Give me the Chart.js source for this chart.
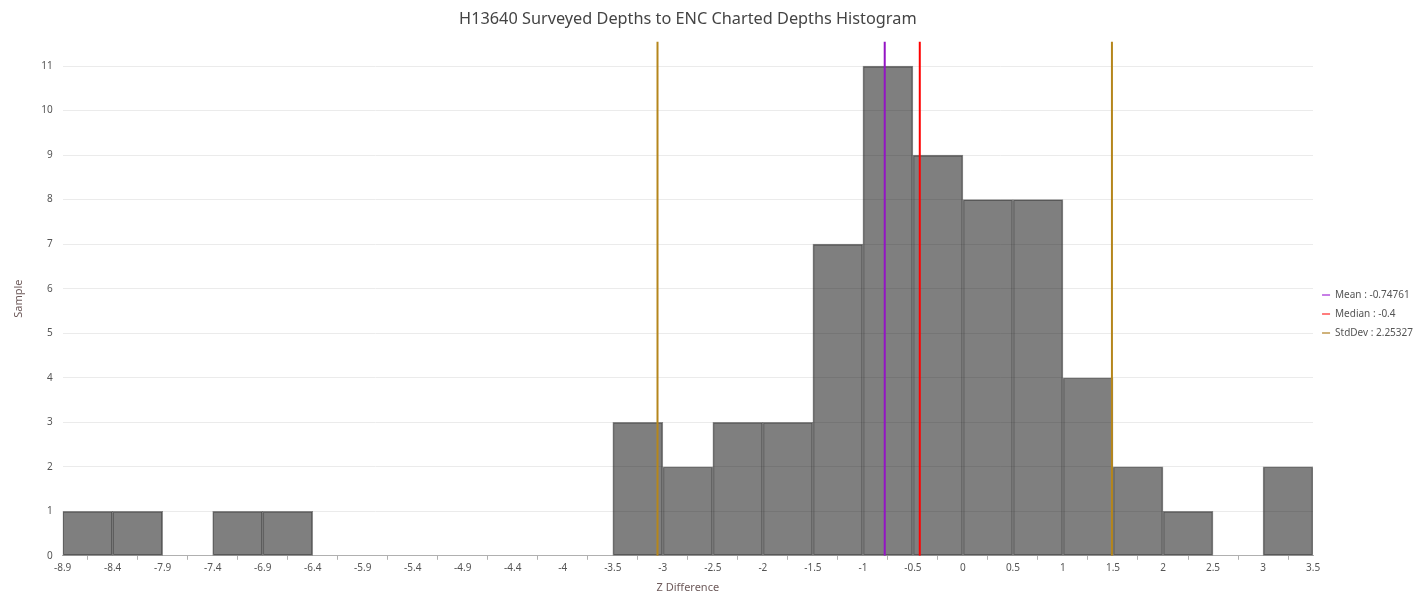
<!DOCTYPE html>
<html>
<head>
<meta charset="utf-8">
<title>Histogram</title>
<script src="https://cdn.jsdelivr.net/npm/chart.js@4.4.1/dist/chart.umd.min.js"></script>
<style>
  html, body { margin: 0; padding: 0; background: #fff; }
  #wrap { width: 1424px; height: 594px; position: relative; }
</style>
</head>
<body>
<div id="wrap"><canvas id="histChart"></canvas></div>
<script>
// =======================================================
// DADOS
// =======================================================
const binEdges = ['-8.9', '-8.4', '-7.9', '-7.4', '-6.9', '-6.4', '-5.9', '-5.4', '-4.9', '-4.4', '-4',
    '-3.5', '-3', '-2.5', '-2', '-1.5', '-1', '-0.5', '0', '0.5', '1', '1.5', '2', '2.5', '3', '3.5'];
const binCounts = [1, 1, 0, 1, 1, 0, 0, 0, 0, 0, 0, 3, 2, 3, 3, 7, 11, 9, 8, 8, 4, 2, 1, 0, 2];
const yTicks = [0, 1, 2, 3, 4, 5, 6, 7, 8, 9, 10, 11];

const meanValue = -0.74761;
const medianValue = -0.4;
const stdDevValue = 2.25327;

const titleText = 'H13640 Surveyed Depths to ENC Charted Depths Histogram';

// =======================================================
// GRÁFICO
// =======================================================
const xMin = parseFloat(binEdges[0]);
const xMax = parseFloat(binEdges[binEdges.length - 1]);
const nBins = binCounts.length;
const yTop = Math.max(...binCounts) * 1.05;

// converte valor real para a posição no eixo (linear sobre o intervalo)
const toPos = v => (v - xMin) / (xMax - xMin) * nBins;
const vline = v => [{ x: toPos(v), y: 0 }, { x: toPos(v), y: yTop }];

const barData = binCounts.map((c, i) => ({ x: i + 0.5, y: c }));

function renderHistogram() {
    const ctx = document.getElementById('histChart');

    new Chart(ctx, {
        type: 'bar',
        data: {
            datasets: [
                {
                    label: 'Histogram',
                    data: barData,
                    backgroundColor: 'rgba(0, 0, 0, 0.5)',
                    borderColor: 'rgba(50, 50, 50, 0.55)',
                    borderWidth: 1,
                    borderSkipped: false,
                    barPercentage: 1,
                    categoryPercentage: 1,
                    order: 2
                },
                {
                    type: 'line',
                    label: 'Mean : ' + meanValue,
                    data: vline(meanValue),
                    borderColor: '#9414c4',
                    backgroundColor: '#c77ee6',
                    borderWidth: 2,
                    pointRadius: 0,
                    order: 1
                },
                {
                    type: 'line',
                    label: 'Median : ' + medianValue,
                    data: vline(medianValue),
                    borderColor: '#ff0000',
                    backgroundColor: '#ff7d7d',
                    borderWidth: 2,
                    pointRadius: 0,
                    order: 1
                },
                {
                    type: 'line',
                    label: 'StdDev : ' + stdDevValue,
                    data: vline(meanValue - stdDevValue),
                    borderColor: '#b5861c',
                    backgroundColor: '#cfb27a',
                    borderWidth: 2,
                    pointRadius: 0,
                    order: 1
                },
                {
                    type: 'line',
                    label: 'StdDev+',
                    data: vline(meanValue + stdDevValue),
                    borderColor: '#b5861c',
                    borderWidth: 2,
                    pointRadius: 0,
                    order: 1
                }
            ]
        },
        options: {
            responsive: true,
            maintainAspectRatio: false,
            animation: false,
            layout: { padding: { left: 12, right: 1, top: 0, bottom: 0 } },
            scales: {
                x: {
                    type: 'linear',
                    min: 0,
                    max: nBins,
                    offset: false,
                    border: { color: '#b0b0b0' },
                    grid: { drawOnChartArea: false, drawTicks: true, tickLength: 4, color: '#b0b0b0' },
                    ticks: {
                        stepSize: 1,
                        autoSkip: false,
                        maxRotation: 0,
                        padding: 2,
                        color: '#555',
                        font: { family: 'Noto Sans', size: 10 },
                        callback: function(value) {
                            return binEdges[value];
                        }
                    },
                    title: {
                        display: true,
                        text: 'Z Difference',
                        color: '#6d5a5a',
                        font: { family: 'Noto Sans', size: 11 },
                        padding: { top: 5, bottom: 0 }
                    }
                },
                y: {
                    min: 0,
                    max: yTop,
                    border: { display: false },
                    grid: { color: '#ebebeb', drawTicks: false },
                    afterBuildTicks: function(scale) {
                        scale.ticks = yTicks.map(v => ({ value: v }));
                    },
                    ticks: {
                        padding: 10,
                        color: '#555',
                        font: { family: 'Noto Sans', size: 10 }
                    },
                    title: {
                        display: true,
                        text: 'Sample',
                        color: '#6d5a5a',
                        font: { family: 'Noto Sans', size: 11 },
                        padding: { top: 0, bottom: 6 }
                    }
                }
            },
            plugins: {
                title: {
                    display: true,
                    fullSize: false,
                    text: titleText,
                    color: '#444',
                    font: { family: 'Noto Sans', size: 16.3, weight: 'normal' },
                    padding: { top: 10, bottom: 12 }
                },
                legend: {
                    position: 'right',
                    align: 'center',
                    title: {
                        display: true,
                        text: ' ',
                        font: { size: 10 },
                        padding: { top: 0, bottom: 22 }
                    },
                    labels: {
                        filter: item => item.text !== 'Histogram' && item.text !== 'StdDev+',
                        boxWidth: 8,
                        boxHeight: 2,
                        padding: 9,
                        color: '#555',
                        font: { family: 'Noto Sans', size: 10 },
                        generateLabels: function(chart) {
                            const items = Chart.defaults.plugins.legend.labels.generateLabels(chart);
                            items.forEach(it => {
                                const ds = chart.data.datasets[it.datasetIndex];
                                it.fillStyle = ds.backgroundColor || ds.borderColor;
                                it.strokeStyle = ds.backgroundColor || ds.borderColor;
                                it.lineWidth = 0;
                            });
                            return items;
                        }
                    }
                },
                tooltip: { enabled: false }
            }
        }
    });
}

renderHistogram();
</script>
</body>
</html>
